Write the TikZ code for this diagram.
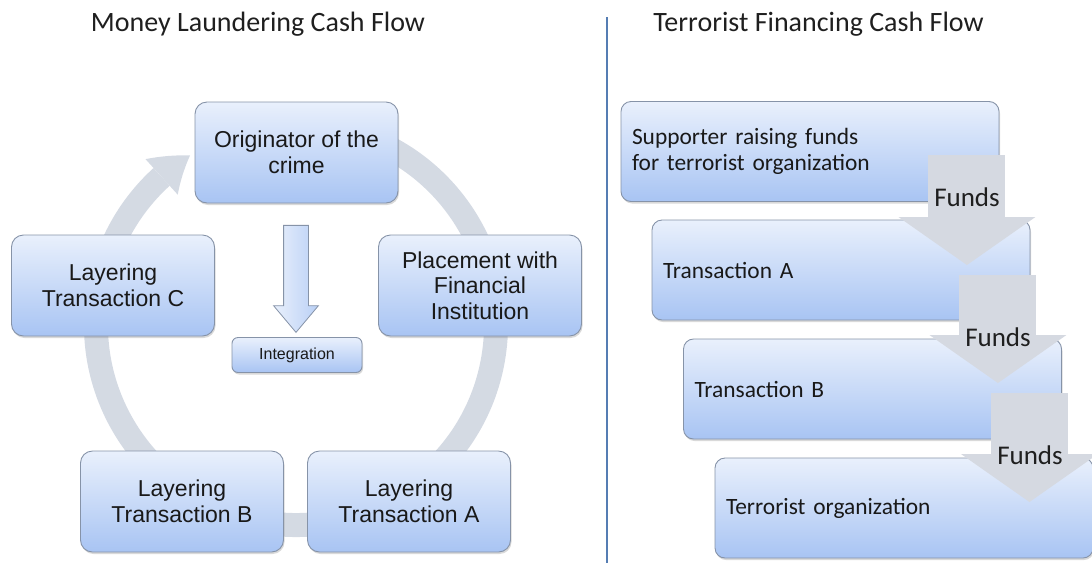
\documentclass[tikz,border=0pt]{standalone}
\usepackage{fontspec}
\setmainfont{Carlito}
\newfontfamily\arialfont{Liberation Sans}
\usetikzlibrary{shapes,arrows.meta,positioning,shadows,bending,calc}

\definecolor{boxtop}{HTML}{E9F0FC}
\definecolor{boxbot}{HTML}{A8C4F3}
\definecolor{boxline}{HTML}{8693A8}
\definecolor{ringgray}{HTML}{D4DAE3}
\definecolor{fundsgray}{HTML}{D5D9E1}
\definecolor{divblue}{HTML}{557DB3}

\tikzset{
    headline/.style={font=\fontsize{28}{32}\selectfont, text=black!88, inner sep=0pt},
    cyclebox/.style={rectangle, rounded corners=12pt, draw=boxline, line width=0.9pt,
        top color=boxtop, bottom color=boxbot, minimum width=203pt, minimum height=101pt,
        align=center, text=black!90, font=\arialfont\fontsize{23}{25.5}\selectfont,
        drop shadow={shadow xshift=1pt, shadow yshift=-2pt, opacity=0.3}},
    smallbox/.style={cyclebox, rounded corners=6pt, minimum width=130pt, minimum height=35pt,
        font=\arialfont\fontsize{16}{18}\selectfont},
    stepbox/.style={rectangle, rounded corners=10pt, draw=boxline, line width=0.9pt,
        top color=boxtop, bottom color=boxbot, text width=356pt, inner xsep=11pt,
        minimum height=100pt, align=left, text=black!90, font=\fontsize{23.4}{26}\selectfont,
        drop shadow={shadow xshift=1pt, shadow yshift=-2pt, opacity=0.3}},
    intarrow/.style={single arrow, draw=boxline, line width=0.8pt, left color=boxtop,
        right color=boxbot!80, minimum height=107pt, inner xsep=0pt, inner ysep=12pt,
        single arrow head extend=10pt, single arrow tip angle=80},
    ringarc/.style={draw=ringgray, line width=24pt,
        -{Triangle[width=48pt, length=36pt, line width=0pt, bend]}},
    fundsarrow/.style={draw=fundsgray, line width=77pt,
        -{Triangle[width=137pt, length=48pt, line width=0pt]}},
    fundslabel/.style={font=\fontsize{27}{30}\selectfont, text=black!88, inner sep=0pt}
}

\begin{document}
\begin{tikzpicture}[x=1pt, y=1pt]
    \useasboundingbox (0,0) rectangle (1092,-563);

    % titles and divider
    \node[headline] (mltitle) at (258,-24) {Money Laundering Cash Flow};
    \node[headline] (tftitle) at (818.5,-24) {Terrorist Financing Cash Flow};
    \draw[divblue, line width=2pt] (607,-17) -- (607,-563);

    % money laundering cycle
    \coordinate (ringc) at (296,-325);
    \draw[ringarc] ([shift={(80:200pt)}]ringc) arc[start angle=80, end angle=-238, radius=200pt];

    \node[cyclebox] (orig) at (296.5,-152.5) {Originator of the\\crime};
    \node[cyclebox] (place) at (480,-285.5) {Placement with\\Financial\\Institution};
    \node[cyclebox] (layA) at (409,-501.5) {Layering\\Transaction A};
    \node[cyclebox] (layB) at (182,-501.5) {Layering\\Transaction B};
    \node[cyclebox] (layC) at (113,-285.5) {Layering\\Transaction C};
    \node[intarrow, rotate=-90] (downarr) at (296,-271.5) {};
    \node[smallbox] (integ) at (297,-355) {Integration};

    % terrorist financing steps
    \node[stepbox] (supp) at (810,-151.5) {Supporter raising funds\\for terrorist organization};
    \node[stepbox] (tA) at (841,-270) {Transaction A};
    \node[stepbox] (tB) at (872.5,-389) {Transaction B};
    \node[stepbox] (terr) at (904,-508) {Terrorist organization};

    \coordinate (f1a) at ([xshift=-32.5pt, yshift=-3.5pt]supp.east);
    \coordinate (f1b) at ($(f1a |- tA.east)+(0,5)$);
    \coordinate (f2a) at ([xshift=-32.5pt, yshift=-5pt]tA.east);
    \coordinate (f2b) at ($(f2a |- tB.east)+(0,6)$);
    \coordinate (f3a) at ([xshift=-32.5pt, yshift=-4pt]tB.east);
    \coordinate (f3b) at ($(f3a |- terr.east)+(0,6)$);
    \draw[fundsarrow] (f1a) -- (f1b);
    \draw[fundsarrow] (f2a) -- (f2b);
    \draw[fundsarrow] (f3a) -- (f3b);

    \node[fundslabel] (fl1) at (967,-197) {Funds};
    \node[fundslabel] (fl2) at (998,-337) {Funds};
    \node[fundslabel] (fl3) at (1030,-455) {Funds};
\end{tikzpicture}
\end{document}
